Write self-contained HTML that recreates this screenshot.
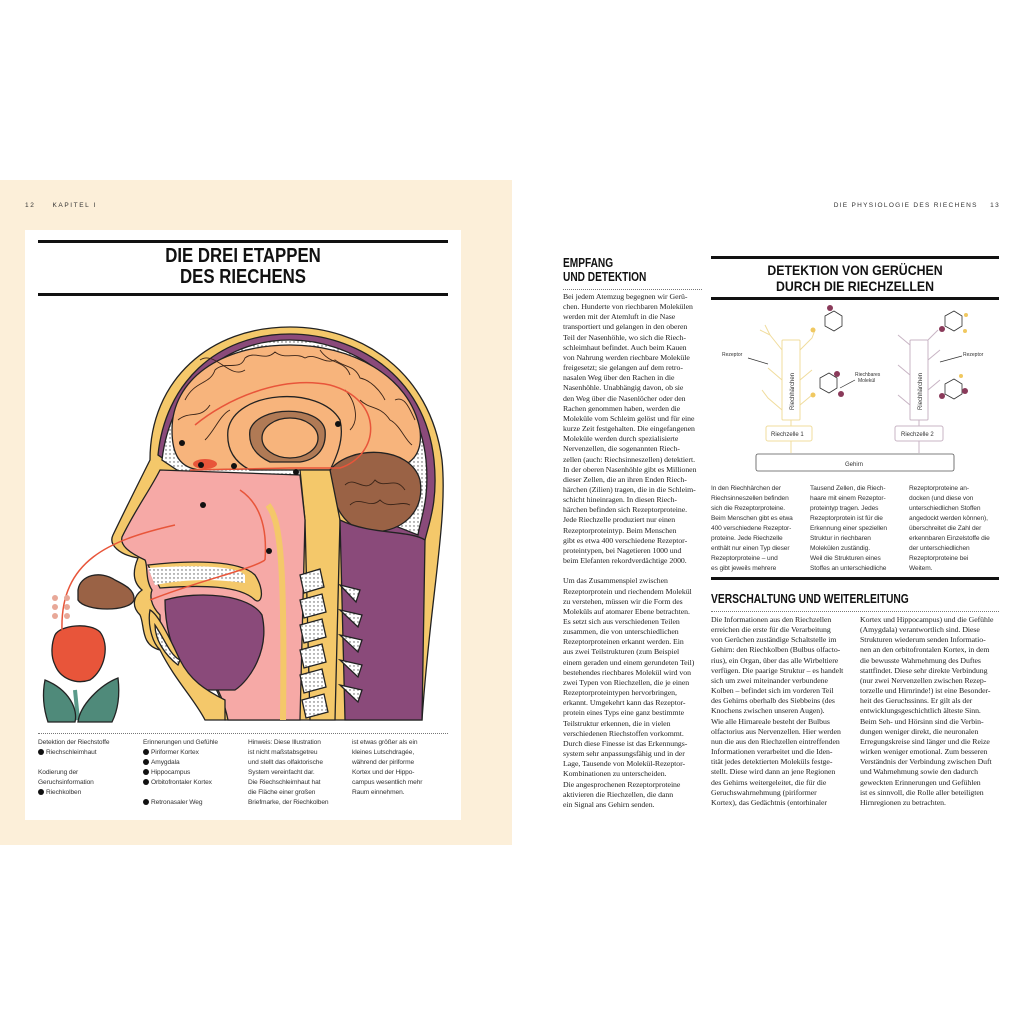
<!DOCTYPE html>
<html><head><meta charset="utf-8">
<style>
*{margin:0;padding:0;box-sizing:border-box}
body{width:1024px;height:1024px;background:#fff;position:relative;overflow:hidden;font-family:"Liberation Sans",sans-serif;color:#222}
.a{position:absolute}
.hd{font-family:"Liberation Sans",sans-serif;font-weight:bold;color:#111;white-space:nowrap}
.run{font-size:6.5px;letter-spacing:1.6px;color:#333;white-space:nowrap}
.ser{font-family:"Liberation Serif",serif;font-size:7.8px;line-height:10.15px;color:#222;white-space:nowrap;letter-spacing:-0.05px}
.san{font-family:"Liberation Sans",sans-serif;font-size:6.6px;line-height:10px;color:#333;white-space:nowrap;letter-spacing:-0.1px}
.num{display:inline-block;width:6px;height:6px;border-radius:50%;background:#111;vertical-align:-1px;margin-right:2px}
.dot{border-top:1px dotted #777}
</style></head><body>
<div class="a" style="left:0;top:180px;width:512px;height:665px;background:#fcefd9"></div>
<div class="a run" style="left:25px;top:202px">12&nbsp;&nbsp;&nbsp;&nbsp;&nbsp;KAPITEL I</div>
<div class="a" style="left:25px;top:230px;width:436px;height:590px;background:#fff"></div>
<div class="a" style="left:38px;top:240px;width:410px;height:3px;background:#111"></div>
<div class="a" style="left:38px;top:293px;width:410px;height:3px;background:#111"></div>
<div class="a hd" style="left:38px;top:246px;width:410px;text-align:center;font-size:20px;line-height:21px;transform:scaleX(0.84)">DIE DREI ETAPPEN<br>DES RIECHENS</div>

<svg class="a" style="left:0;top:300px" width="460" height="430" viewBox="0 300 460 430">
<defs><pattern id="dp" width="4" height="4" patternUnits="userSpaceOnUse"><rect width="4" height="4" fill="#fff"/><circle cx="2" cy="2" r="0.7" fill="#555"/></pattern></defs>
<g stroke="#222" stroke-width="1.3">
<path d="M290 327 C360 327 430 370 442 460 C448 520 430 600 422 720 L225 720 C222 690 205 660 160 650 C140 645 145 625 140 615 C130 605 135 595 142 590 C130 580 135 565 138 558 C120 555 108 545 113 535 C125 510 140 480 150 460 C150 380 210 327 290 327Z" fill="#f4c86a"/>
<path d="M290 334 C355 334 425 375 434 460 C438 500 430 520 425 540 L400 540 L330 500 L180 470 L158 455 C165 385 215 334 290 334Z" fill="#8a4a7a"/>
<path d="M290 340 C350 340 418 380 426 460 C430 500 420 520 418 535 L330 500 L180 472 L162 460 C170 390 220 340 290 340Z" fill="url(#dp)"/>
<path d="M290 345 C350 345 410 375 420 430 C423 455 410 465 395 468 L300 468 L200 470 C180 468 172 455 172 430 C172 380 220 345 290 345Z" fill="#f7b47c"/>
<path d="M330 470 C350 445 410 445 420 480 C425 510 405 530 375 532 C345 532 330 505 330 470Z" fill="#9a6245"/>
<path d="M228 430 C235 390 320 385 340 420 C345 440 335 460 330 470 L250 470 C235 462 226 450 228 430Z" fill="#f7b47c"/>
<path d="M250 430 C258 405 320 405 325 430 C327 450 315 460 300 462 L270 462 C255 455 248 445 250 430Z" fill="#b07a55"/>
<ellipse cx="290" cy="438" rx="28" ry="20" fill="#f7b47c"/>
<path d="M300 470 L330 470 L340 520 L335 720 L310 720 L305 520Z" fill="#f4c86a"/>
<path d="M340 520 C370 535 410 530 425 540 L422 720 L345 720Z" fill="#8a4a7a"/>
<path d="M160 470 L300 475 L305 520 L300 720 L228 720 C222 690 205 660 175 650 C160 645 160 625 160 615 C150 605 150 595 152 590 C145 580 148 565 145 560 C128 552 120 545 122 537 C135 510 150 490 160 470Z" fill="#f6a9a6"/>
<path d="M148 565 C190 560 240 560 255 575 C265 590 262 605 255 600 C240 585 200 585 160 588Z" fill="#f4c86a"/>
<path d="M148 568 C190 565 235 565 245 575 L245 583 C210 578 180 580 155 585Z" fill="url(#dp)" stroke="none"/>
<path d="M165 600 C200 590 250 595 262 615 C270 650 250 680 235 690 L200 690 C180 670 165 640 165 600Z" fill="#8a4a7a"/>
<path d="M150 610 C160 615 175 650 180 660 C190 680 205 690 225 700 L225 720 L205 720 C195 700 175 680 160 650 C150 640 148 620 150 610Z" fill="#f4c86a"/>
<path d="M155 625 C165 640 170 655 180 660 L178 665 C165 655 155 640 155 625Z" fill="url(#dp)"/>
<g fill="url(#dp)">
<path d="M300 575 l20 -6 l4 18 l-20 6z"/><path d="M300 600 l22 -6 l4 18 l-22 6z"/><path d="M300 625 l22 -6 l4 18 l-22 6z"/><path d="M300 650 l22 -6 l4 18 l-22 6z"/><path d="M300 675 l22 -6 l4 18 l-22 6z"/><path d="M302 700 l22 -6 l4 18 l-22 6z"/>
<path d="M340 585 l20 5 l-4 12z"/><path d="M340 610 l22 5 l-4 12z"/><path d="M340 635 l22 5 l-4 12z"/><path d="M340 660 l22 5 l-4 12z"/><path d="M340 685 l22 5 l-4 12z"/>
</g>
<path d="M268 505 C280 520 285 560 283 720" fill="none" stroke="#f4c86a" stroke-width="6"/>
<path d="M78 590 C80 575 100 570 115 580 C125 585 135 590 134 600 C130 612 85 612 78 600Z" fill="#9a6245"/>
<path d="M75 690 L78 720" stroke="#5a9a8a" stroke-width="4"/>
<path d="M45 680 C70 690 78 710 75 722 L48 722 C44 710 42 695 45 680Z" fill="#4f8a7a"/>
<path d="M118 678 C100 685 80 705 78 722 L112 722 C118 710 120 695 118 678Z" fill="#4f8a7a"/>
<path d="M55 635 C60 625 90 622 100 632 C110 645 105 670 90 680 C75 685 60 678 55 665 C50 655 52 642 55 635Z" fill="#e8553a"/>
</g>
<g fill="none" stroke="#3a2418" stroke-width="0.9">
<path d="M185 400 C195 380 210 385 215 370 C225 360 240 372 245 358 C255 350 265 362 275 352 C285 360 295 352 305 358 C315 352 325 365 335 360 C345 368 355 365 360 378 C370 380 380 390 385 400"/>
<path d="M178 420 C190 410 200 420 210 405 M205 440 C215 430 220 415 230 410 M360 400 C370 410 380 405 390 420 C400 425 405 440 412 445 M345 390 C355 400 360 420 350 430"/>
<path d="M200 360 C215 350 230 380 245 370 M320 350 C330 365 345 360 350 375 M395 400 C405 395 410 410 415 420"/>
<path d="M345 485 C355 475 365 495 375 480 C385 490 395 475 405 490 M350 505 C360 495 370 510 380 500 C390 510 400 500 410 505"/>
</g>
<g fill="none" stroke="#e8553a" stroke-width="1.5">
<path d="M62 630 C60 560 110 540 175 525"/>
<path d="M150 600 C200 580 250 570 265 560"/>
<path d="M240 490 C255 500 268 520 265 560"/>
<path d="M190 470 L290 468 L340 468 C380 455 385 400 330 385 C280 375 225 400 195 425"/>
</g>
<g fill="#e8a898"><circle cx="55" cy="598" r="3"/><circle cx="67" cy="598" r="3"/><circle cx="55" cy="607" r="3"/><circle cx="67" cy="607" r="3"/><circle cx="55" cy="616" r="3"/><circle cx="67" cy="616" r="3"/></g>
<ellipse cx="205" cy="464" rx="12" ry="5" fill="#e8553a"/>
<g fill="#111"><circle cx="201" cy="465" r="3"/><circle cx="234" cy="466" r="3"/><circle cx="296" cy="472" r="3"/><circle cx="182" cy="443" r="3"/><circle cx="338" cy="424" r="3"/><circle cx="203" cy="505" r="3"/><circle cx="269" cy="551" r="3"/></g>
</svg>

<div class="a dot" style="left:38px;top:733px;width:410px"></div>
<div class="a san" style="left:38px;top:738px">Detektion der Riechstoffe<br><span class="num"></span>Riechschleimhaut<br><br>Kodierung der<br>Geruchsinformation<br><span class="num"></span>Riechkolben</div>
<div class="a san" style="left:143px;top:738px">Erinnerungen und Gefühle<br><span class="num"></span>Piriformer Kortex<br><span class="num"></span>Amygdala<br><span class="num"></span>Hippocampus<br><span class="num"></span>Orbitofrontaler Kortex<br><br><span class="num"></span>Retronasaler Weg</div>
<div class="a san" style="left:248px;top:738px">Hinweis: Diese Illustration<br>ist nicht maßstabsgetreu<br>und stellt das olfaktorische<br>System vereinfacht dar.<br>Die Riechschleimhaut hat<br>die Fläche einer großen<br>Briefmarke, der Riechkolben</div>
<div class="a san" style="left:352px;top:738px">ist etwas größer als ein<br>kleines Lutschdragée,<br>während der piriforme<br>Kortex und der Hippo-<br>campus wesentlich mehr<br>Raum einnehmen.</div>

<div class="a run" style="right:24px;top:202px;text-align:right;letter-spacing:1.3px">DIE PHYSIOLOGIE DES RIECHENS&nbsp;&nbsp;&nbsp;&nbsp;13</div>
<div class="a hd" style="left:563px;top:256px;font-size:13px;line-height:14px;transform:scaleX(0.78);transform-origin:left top">EMPFANG<br>UND DETEKTION</div>
<div class="a dot" style="left:563px;top:289px;width:139px"></div>
<div class="a ser" style="left:563px;top:292px">Bei jedem Atemzug begegnen wir Gerü-<br>chen. Hunderte von riechbaren Molekülen<br>werden mit der Atemluft in die Nase<br>transportiert und gelangen in den oberen<br>Teil der Nasenhöhle, wo sich die Riech-<br>schleimhaut befindet. Auch beim Kauen<br>von Nahrung werden riechbare Moleküle<br>freigesetzt; sie gelangen auf dem retro-<br>nasalen Weg über den Rachen in die<br>Nasenhöhle. Unabhängig davon, ob sie<br>den Weg über die Nasenlöcher oder den<br>Rachen genommen haben, werden die<br>Moleküle vom Schleim gelöst und für eine<br>kurze Zeit festgehalten. Die eingefangenen<br>Moleküle werden durch spezialisierte<br>Nervenzellen, die sogenannten Riech-<br>zellen (auch: Riechsinneszellen) detektiert.<br>In der oberen Nasenhöhle gibt es Millionen<br>dieser Zellen, die an ihren Enden Riech-<br>härchen (Zilien) tragen, die in die Schleim-<br>schicht hineinragen. In diesen Riech-<br>härchen befinden sich Rezeptorproteine.<br>Jede Riechzelle produziert nur einen<br>Rezeptorproteintyp. Beim Menschen<br>gibt es etwa 400 verschiedene Rezeptor-<br>proteintypen, bei Nagetieren 1000 und<br>beim Elefanten rekordverdächtige 2000.<br><br>Um das Zusammenspiel zwischen<br>Rezeptorprotein und riechendem Molekül<br>zu verstehen, müssen wir die Form des<br>Moleküls auf atomarer Ebene betrachten.<br>Es setzt sich aus verschiedenen Teilen<br>zusammen, die von unterschiedlichen<br>Rezeptorproteinen erkannt werden. Ein<br>aus zwei Teilstrukturen (zum Beispiel<br>einem geraden und einem gerundeten Teil)<br>bestehendes riechbares Molekül wird von<br>zwei Typen von Riechzellen, die je einen<br>Rezeptorproteintypen hervorbringen,<br>erkannt. Umgekehrt kann das Rezeptor-<br>protein eines Typs eine ganz bestimmte<br>Teilstruktur erkennen, die in vielen<br>verschiedenen Riechstoffen vorkommt.<br>Durch diese Finesse ist das Erkennungs-<br>system sehr anpassungsfähig und in der<br>Lage, Tausende von Molekül-Rezeptor-<br>Kombinationen zu unterscheiden.<br>Die angesprochenen Rezeptorproteine<br>aktivieren die Riechzellen, die dann<br>ein Signal ans Gehirn senden.</div>

<div class="a" style="left:711px;top:256px;width:288px;height:3px;background:#111"></div>
<div class="a hd" style="left:711px;top:262px;width:288px;text-align:center;font-size:14px;line-height:16px;transform:scaleX(0.88)">DETEKTION VON GERÜCHEN<br>DURCH DIE RIECHZELLEN</div>
<div class="a" style="left:711px;top:297px;width:288px;height:3px;background:#111"></div>

<svg class="a" style="left:700px;top:300px" width="300" height="180" viewBox="700 300 300 180" font-family="Liberation Sans" font-size="5">
<g fill="none" stroke="#f0dc9c" stroke-width="1">
<path d="M782 350 L770 335 L765 325 M770 335 L760 330 M782 380 L768 368 M782 410 L768 398 L762 390 M800 350 L812 338 L815 330 M800 380 L812 370 M800 405 L812 395"/>
<rect x="782" y="340" width="18" height="80" rx="1" fill="#fff"/>
<rect x="766" y="426" width="46" height="15" rx="2" fill="#fff"/>
<path d="M791 420 V426 M791 441 V453"/>
</g>
<g fill="none" stroke="#c8b4c4" stroke-width="1">
<path d="M910 345 L898 335 M910 375 L898 365 M910 405 L898 395 M928 360 L940 350 M928 390 L940 380 M928 340 L938 330"/>
<rect x="910" y="340" width="18" height="80" rx="1" fill="#fff"/>
<rect x="895" y="426" width="48" height="15" rx="2" fill="#fff"/>
<path d="M919 420 V426 M919 441 V453"/>
</g>
<rect x="756" y="454" width="198" height="17" rx="2" fill="#fff" stroke="#555" stroke-width="0.8"/>
<g fill="none" stroke="#333" stroke-width="0.8">
<polygon points="825,316 834,311 842,316 842,326 834,331 825,326"/>
<polygon points="820,378 829,373 837,378 837,388 829,393 820,388"/>
<polygon points="945,316 954,311 962,316 962,326 954,331 945,326"/>
<polygon points="945,384 954,379 962,384 962,394 954,399 945,394"/>
</g>
<g fill="#8a3a5a"><circle cx="830" cy="308" r="3"/><circle cx="837" cy="374" r="3"/><circle cx="841" cy="394" r="3"/><circle cx="942" cy="329" r="3"/><circle cx="942" cy="396" r="3"/><circle cx="965" cy="391" r="3"/></g>
<g fill="#f0c860"><circle cx="813" cy="330" r="2.5"/><circle cx="813" cy="395" r="2.5"/><circle cx="966" cy="315" r="2"/><circle cx="965" cy="331" r="2"/><circle cx="961" cy="376" r="2"/></g>
<g fill="#333">
<text x="722" y="356">Rezeptor</text><text x="963" y="356">Rezeptor</text>
<text x="855" y="376">Riechbares</text><text x="858" y="382">Molekül</text>
<text x="771" y="436" font-size="6">Riechzelle 1</text><text x="901" y="436" font-size="6">Riechzelle 2</text>
<text x="845" y="466" font-size="6">Gehirn</text>
<text transform="translate(794,410) rotate(-90)" font-size="6">Riechhärchen</text>
<text transform="translate(922,410) rotate(-90)" font-size="6">Riechhärchen</text>
</g>
<path d="M748 358 L768 364 M855 380 L840 388 M962 356 L940 362" stroke="#333" stroke-width="0.7"/>
</svg>

<div class="a san" style="left:711px;top:484px">In den Riechhärchen der<br>Riechsinneszellen befinden<br>sich die Rezeptorproteine.<br>Beim Menschen gibt es etwa<br>400 verschiedene Rezeptor-<br>proteine. Jede Riechzelle<br>enthält nur einen Typ dieser<br>Rezeptorproteine – und<br>es gibt jeweils mehrere</div>
<div class="a san" style="left:810px;top:484px">Tausend Zellen, die Riech-<br>haare mit einem Rezeptor-<br>proteintyp tragen. Jedes<br>Rezeptorprotein ist für die<br>Erkennung einer speziellen<br>Struktur in riechbaren<br>Molekülen zuständig.<br>Weil die Strukturen eines<br>Stoffes an unterschiedliche</div>
<div class="a san" style="left:909px;top:484px">Rezeptorproteine an-<br>docken (und diese von<br>unterschiedlichen Stoffen<br>angedockt werden können),<br>überschreitet die Zahl der<br>erkennbaren Einzelstoffe die<br>der unterschiedlichen<br>Rezeptorproteine bei<br>Weitem.</div>
<div class="a" style="left:711px;top:577px;width:288px;height:3px;background:#111"></div>
<div class="a hd" style="left:711px;top:591px;font-size:13px;transform:scaleX(0.79);transform-origin:left top">VERSCHALTUNG UND WEITERLEITUNG</div>
<div class="a dot" style="left:711px;top:611px;width:288px"></div>
<div class="a ser" style="left:711px;top:615px">Die Informationen aus den Riechzellen<br>erreichen die erste für die Verarbeitung<br>von Gerüchen zuständige Schaltstelle im<br>Gehirn: den Riechkolben (Bulbus olfacto-<br>rius), ein Organ, über das alle Wirbeltiere<br>verfügen. Die paarige Struktur – es handelt<br>sich um zwei miteinander verbundene<br>Kolben – befindet sich im vorderen Teil<br>des Gehirns oberhalb des Siebbeins (des<br>Knochens zwischen unseren Augen).<br>Wie alle Hirnareale besteht der Bulbus<br>olfactorius aus Nervenzellen. Hier werden<br>nun die aus den Riechzellen eintreffenden<br>Informationen verarbeitet und die Iden-<br>tität jedes detektierten Moleküls festge-<br>stellt. Diese wird dann an jene Regionen<br>des Gehirns weitergeleitet, die für die<br>Geruchswahrnehmung (piriformer<br>Kortex), das Gedächtnis (entorhinaler</div>
<div class="a ser" style="left:860px;top:615px">Kortex und Hippocampus) und die Gefühle<br>(Amygdala) verantwortlich sind. Diese<br>Strukturen wiederum senden Informatio-<br>nen an den orbitofrontalen Kortex, in dem<br>die bewusste Wahrnehmung des Duftes<br>stattfindet. Diese sehr direkte Verbindung<br>(nur zwei Nervenzellen zwischen Rezep-<br>torzelle und Hirnrinde!) ist eine Besonder-<br>heit des Geruchssinns. Er gilt als der<br>entwicklungsgeschichtlich älteste Sinn.<br>Beim Seh- und Hörsinn sind die Verbin-<br>dungen weniger direkt, die neuronalen<br>Erregungskreise sind länger und die Reize<br>wirken weniger emotional. Zum besseren<br>Verständnis der Verbindung zwischen Duft<br>und Wahrnehmung sowie den dadurch<br>geweckten Erinnerungen und Gefühlen<br>ist es sinnvoll, die Rolle aller beteiligten<br>Hirnregionen zu betrachten.</div>
</body></html>
